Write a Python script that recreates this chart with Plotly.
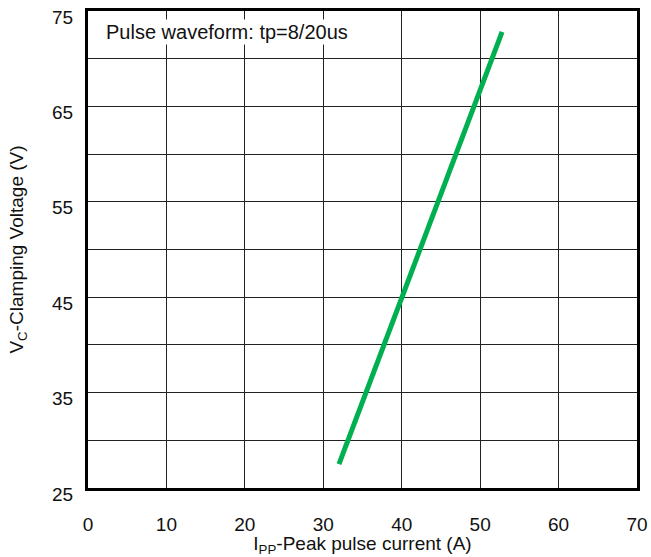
import plotly.graph_objects as go

# Data
ipp = [32.0, 52.8]          # Peak pulse current (A)
vc = [27.5, 72.8]           # Clamping voltage (V)
x_ticks = [0, 10, 20, 30, 40, 50, 60, 70]
y_ticks = [25, 35, 45, 55, 65, 75]

FONT = "Liberation Sans, Arial, sans-serif"

fig = go.Figure()
fig.add_trace(go.Scatter(x=ipp, y=vc, mode="lines",
                         line=dict(color="#00b050", width=5),
                         showlegend=False, hoverinfo="skip"))

fig.add_annotation(x=0.03, y=0.955, xref="paper", yref="paper",
                   xanchor="left", yanchor="middle",
                   text="Pulse waveform: tp=8/20us", showarrow=False,
                   font=dict(family=FONT, size=20, color="#111"),
                   bgcolor="white", borderpad=1)

fig.update_layout(
    width=651, height=557,
    margin=dict(l=88, r=14, t=11, b=69),
    paper_bgcolor="white", plot_bgcolor="white",
    font=dict(family=FONT, size=19, color="#111"),
    xaxis=dict(range=[0, 70], tickvals=x_ticks, showgrid=True,
               gridcolor="#222", gridwidth=1.4, zeroline=False,
               showline=True, linecolor="black", linewidth=3, mirror=True,
               ticks="", ticklabelstandoff=17, automargin=False,
               ticklabeloverflow="allow",
               title=dict(text="I<sub>PP</sub>-Peak pulse current (A)",
                          font=dict(size=19), standoff=0)),
    yaxis=dict(range=[25, 75], tickvals=y_ticks, showgrid=True,
               gridcolor="#222", gridwidth=1.4, zeroline=False,
               showline=True, linecolor="black", linewidth=3, mirror=True,
               ticks="", ticklabelstandoff=8, automargin=False,
               ticklabeloverflow="allow", ticklabelshift=6,
               minor=dict(dtick=5, tick0=25, showgrid=True,
                          gridcolor="#222", gridwidth=1.4),
               title=dict(text="V<sub>C</sub>-Clamping Voltage (V)",
                          font=dict(size=19), standoff=24)),
)

fig.write_html("out.html",
               config={"displayModeBar": False},
               post_script="document.body.style.margin='0';"
                           "document.body.style.overflow='hidden';")
